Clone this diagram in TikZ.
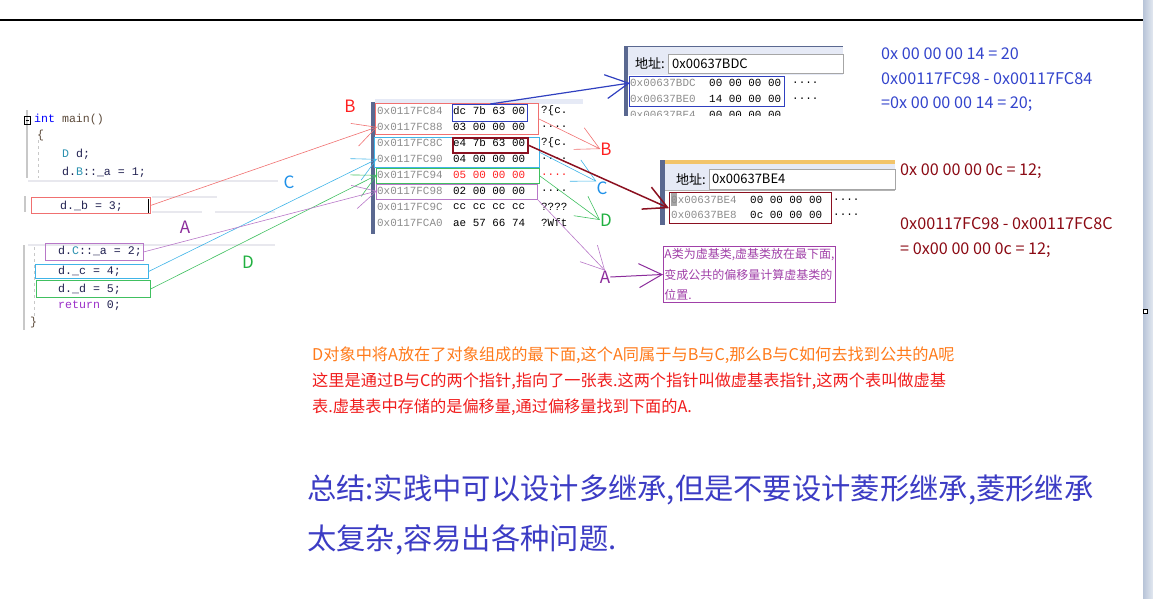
\documentclass[tikz,border=0pt]{standalone}
\usepackage{fontspec}
\usepackage{xcolor}
\usetikzlibrary{arrows.meta,positioning,calc}
\newfontfamily\cjk{Noto Sans CJK SC}
\newfontfamily\codefont{Liberation Mono}
\newcommand{\fourdots}{....}

\definecolor{cKey}{HTML}{0000FF}
\definecolor{cFunc}{HTML}{5C4A3A}
\definecolor{cType}{HTML}{2B91AF}
\definecolor{cVar}{HTML}{202050}
\definecolor{cRet}{HTML}{9B30C8}
\definecolor{cAddr}{HTML}{8C8C8C}
\definecolor{cPink}{HTML}{F07070}
\definecolor{cCyan}{HTML}{40B4E8}
\definecolor{cGreen}{HTML}{40C060}
\definecolor{cPurple}{HTML}{B878C8}
\definecolor{cBlueBox}{HTML}{3040C0}
\definecolor{cDarkRed}{HTML}{8B1020}
\definecolor{tagB}{HTML}{FF2020}
\definecolor{tagC}{HTML}{1E90E8}
\definecolor{tagD}{HTML}{20B040}
\definecolor{tagA}{HTML}{8B2C9B}
\definecolor{cNote}{HTML}{A040A8}
\definecolor{cBlueTxt}{HTML}{3344CC}
\definecolor{cSumTxt}{HTML}{3C3CC4}
\definecolor{cMaroon}{HTML}{8B0A14}
\definecolor{cOrange}{HTML}{FF7A1A}
\definecolor{cRedTxt}{HTML}{F01C1C}
\definecolor{cData}{HTML}{FF2020}
\definecolor{cBar}{HTML}{5A6890}
\definecolor{cLav}{HTML}{E6EAF6}
\definecolor{cOrangeBar}{HTML}{F2C46A}
\definecolor{cGutter}{HTML}{C8C8C8}
\definecolor{cRule}{HTML}{E8E8EE}
\definecolor{cScrollA}{HTML}{B8C4D8}
\definecolor{cScrollB}{HTML}{E2E8F0}

\tikzset{
  codetxt/.style={anchor=west,inner sep=0pt,text=cVar,font=\codefont\fontsize{11.6}{12}\selectfont},
  memtxt/.style={anchor=west,inner sep=0pt,font=\codefont\fontsize{10.9}{12}\selectfont},
  markbox/.style={draw=#1,line width=0.8pt,inner sep=0pt,anchor=north west},
  addrbox/.style={draw=gray!70,fill=white,line width=0.6pt,inner sep=0pt,anchor=north west},
  addrtxt/.style={anchor=west,inner sep=0pt,font=\cjk\fontsize{13}{13}\selectfont},
  handarrow/.style={-{Straight Barb[length=23pt,width=24pt]},line width=0.6pt},
  tag/.style={inner sep=0pt,font=\cjk\fontsize{17}{17}\selectfont},
  note/.style={anchor=west,inner sep=0pt,font=\cjk\fontsize{16.2}{16}\selectfont},
}

\begin{document}
\begin{tikzpicture}[x=1pt,y=-1pt]
  \useasboundingbox (0,0) rectangle (1153,599);
  % page frame and scrollbar
  \draw[line width=1.6pt] (0,20) -- (1143,20);
  \fill[left color=cScrollA,right color=cScrollB] (1143,0) rectangle (1153,599);
  \draw[fill=white,line width=0.6pt] (1143.5,309) rectangle (1147.5,313);

  % editor gutter
  \fill[cGutter] (26,110) rectangle (28,178);
  \fill[cGutter] (24,196) rectangle (26,212);
  \fill[cGutter] (23,245) rectangle (25,330);
  \draw[cGutter,dashed,line width=0.6pt] (38,140) -- (38,178);
  \draw[cGutter,dashed,line width=0.6pt] (34,247) -- (34,317);
  \foreach \ya/\xa/\xb in {181/28/278,197/152/217,212/152/202,212/215/275,245/28/275}
    \draw[cRule,line width=1.5pt] (\xa,\ya) -- (\xb,\ya);
  \draw[line width=0.5pt] (24,116) rectangle (30,124);
  \draw[line width=0.5pt] (25.5,120) -- (28.5,120);

  % code lines
  \node[codetxt] (cmain) at (34,120) {\textcolor{cKey}{int} \textcolor{cFunc}{main()}};
  \node[codetxt,text=cFunc] (copen) at (37,136) {\{};
  \node[codetxt] (cdecl) at (62,154) {\textcolor{cType}{D} d;};
  \node[codetxt] (cba) at (62,172) {d.\textcolor{cType}{B}::\_a = 1;};
  \node[codetxt] (cb) at (60,206) {d.\_b = 3;};
  \node[codetxt] (cca) at (58,251) {d.\textcolor{cType}{C}::\_a = 2;};
  \node[codetxt] (cc) at (58,271) {d.\_c = 4;};
  \node[codetxt] (cd) at (58,289) {d.\_d = 5;};
  \node[codetxt] (cret) at (58,306) {\textcolor{cRet}{return} 0;};
  \node[codetxt,text=cFunc] (cclose) at (30,322) {\}};
  \draw[line width=0.8pt] (148,199) -- (148,213);

  % boxes round the assignments
  \node[markbox=cPink,minimum width=119pt,minimum height=16pt] (bb) at (31,197) {};
  \node[markbox=cPurple,minimum width=98pt,minimum height=17pt] (bca) at (45,243) {};
  \node[markbox=cCyan,minimum width=113pt,minimum height=14pt] (bc) at (35,264) {};
  \node[markbox=cGreen,minimum width=114pt,minimum height=17pt] (bd) at (36,280) {};

  % memory window of d
  \fill[cLav] (375,99) rectangle (583,104);
  \fill[cBar] (371,102) rectangle (375,234);
  \foreach \i/\ad/\dt/\as/\cl in {1/0x0117FC84/dc 7b 63 00/?\{c./black,
      2/0x0117FC88/03 00 00 00/\fourdots/black,
      3/0x0117FC8C/e4 7b 63 00/?\{c./black,
      4/0x0117FC90/04 00 00 00/\fourdots/black,
      5/0x0117FC94/05 00 00 00/\fourdots/cData,
      6/0x0117FC98/02 00 00 00/\fourdots/black,
      7/0x0117FC9C/cc cc cc cc/????/black,
      8/0x0117FCA0/ae 57 66 74/?Wft/black}{
    \node[memtxt,text=cAddr] (ad\i) at (377,{111+16*(\i-1)}) {\ad};
    \node[memtxt,text=\cl] (dt\i) at (453,{111+16*(\i-1)}) {\dt};
    \node[memtxt,text=\cl] (as\i) at (541,{111+16*(\i-1)}) {\as};
  }
  \node[markbox=cPink,minimum width=163pt,minimum height=31pt] (bx1) at (375,103) {};
  \node[markbox=cBlueBox,line width=1.3pt,minimum width=75pt,minimum height=17pt] (bx2) at (452,104) {};
  \node[markbox=cCyan,minimum width=165pt,minimum height=30pt] (bx3) at (374,137) {};
  \node[markbox=cDarkRed,line width=1.6pt,minimum width=75pt,minimum height=15pt] (bx4) at (452,137) {};
  \node[markbox=cGreen,minimum width=163pt,minimum height=15pt] (bx5) at (376,168) {};
  \node[markbox=cPurple,minimum width=161pt,minimum height=15pt] (bx6) at (376,184) {};

  % memory window 0x00637BDC
  \fill[cLav] (628,47) rectangle (843,75);
  \draw[cBar,line width=1.5pt] (624,46.5) -- (843,46.5);
  \fill[cBar] (624,46) rectangle (628,116);
  \node[addrbox,minimum width=175pt,minimum height=19pt] (ab2) at (668,54) {};
  \node[addrtxt] (lbl2) at (635,63.5) {地址:};
  \node[addrtxt] (adr2) at (672,63.5) {0x00637BDC};
  \begin{scope}
    \clip (624,40) rectangle (845,116);
    \foreach \i/\ad/\dt in {1/0x00637BDC/00 00 00 00,2/0x00637BE0/14 00 00 00,3/0x00637BE4/00 00 00 00}{
      \node[memtxt,text=cAddr] (wa\i) at (630,{83+16*(\i-1)}) {\ad};
      \node[memtxt] (wd\i) at (709,{83+16*(\i-1)}) {\dt};
    }
  \end{scope}
  \node[memtxt] (wx1) at (792,83) {\fourdots};
  \node[memtxt] (wx2) at (792,99) {\fourdots};
  \node[markbox=cBlueBox,line width=1.3pt,minimum width=155pt,minimum height=30pt] (bx7) at (629,76) {};

  % memory window 0x00637BE4
  \fill[cOrangeBar] (660,160) rectangle (895,164);
  \fill[cLav] (665,164) rectangle (895,190);
  \draw[gray!60,line width=0.8pt] (665,190) -- (895,190);
  \fill[cBar] (660,160) rectangle (665,225);
  \node[addrbox,minimum width=186pt,minimum height=20pt] (ab3) at (709,169) {};
  \node[addrtxt] (lbl3) at (676,179) {地址:};
  \node[addrtxt] (adr3) at (712,179) {0x00637BE4};
  \fill[gray!70] (671,193) rectangle (677,206);
  \foreach \i/\ad/\dt in {1/0x00637BE4/00 00 00 00,2/0x00637BE8/0c 00 00 00}{
    \node[memtxt,text=cAddr] (va\i) at (671,{200+15*(\i-1)}) {\ad};
    \node[memtxt] (vd\i) at (750,{200+15*(\i-1)}) {\dt};
    \node[memtxt] (vx\i) at (833,{200+15*(\i-1)}) {\fourdots};
  }
  \node[markbox=cDarkRed,line width=1.4pt,minimum width=162pt,minimum height=31pt] (bx8) at (669,192) {};

  % tags
  \node[tag,text=tagB] (tB) at (350,106) {B};
  \node[tag,text=tagC] (tC) at (289,182) {C};
  \node[tag,text=tagD] (tD) at (248,262) {D};
  \node[tag,text=tagA] (tA) at (185,227) {A};
  \node[tag,text=tagB] (rB) at (606,149) {B};
  \node[tag,text=tagC] (rC) at (602,188) {C};
  \node[tag,text=tagD] (rD) at (606,220) {D};
  \node[tag,text=tagA] (rA) at (605,277) {A};

  % note box
  \node[draw=cNote,line width=0.9pt,anchor=north west,text=cNote,text width=170pt,align=left,
        inner xsep=1pt,inner ysep=2pt,font=\cjk\fontsize{12}{20.5}\selectfont] (note) at (663,246)
    {A类为虚基类,虚基类放在最下面,\\变成公共的偏移量计算虚基类的\\位置.};

  % connectors
  \draw[handarrow,cPink] (bb.east) -- (ad2.west);
  \draw[handarrow,cCyan] (bc.east) -- (ad4.west);
  \draw[handarrow,cGreen] (bd.east) -- (ad5.west);
  \draw[handarrow,cPurple] (bca.east) -- (ad6.west);
  \draw[handarrow,cPink] (bx1.east) -- (rB.west);
  \draw[handarrow,cCyan] (bx3.east) -- (rC.north west);
  \draw[handarrow,cGreen] (bx5.east) -- (rD.west);
  \draw[handarrow,cPurple] (bx6.south east) -- (rA.north);
  \draw[handarrow,tagA,line width=1pt] (rA.east) -- (note.west);
  \draw[handarrow,cDarkRed,line width=1.5pt] (bx4.east) -- (bx8.west);
  \draw[handarrow,cBlueBox,line width=1.2pt] (bx2.north) -- (wa1.west);

  % offsets
  \node[note,text=cBlueTxt] (o1) at (881,54) {0x 00 00 00 14 = 20};
  \node[note,text=cBlueTxt] (o2) at (881,79) {0x00117FC98 - 0x00117FC84};
  \node[note,text=cBlueTxt] (o3) at (881,104) {=0x 00 00 00 14 = 20;};
  \node[note,text=cMaroon] (p1) at (900,171) {0x 00 00 00 0c = 12;};
  \node[note,text=cMaroon] (p2) at (900,224) {0x00117FC98 - 0x00117FC8C};
  \node[note,text=cMaroon] (p3) at (900,250) {= 0x00 00 00 0c = 12;};

  % explanation
  \node[note,text=cOrange] (e1) at (312,355) {D对象中将A放在了对象组成的最下面,这个A同属于与B与C,那么B与C如何去找到公共的A呢};
  \node[note,text=cRedTxt] (e2) at (312,381) {这里是通过B与C的两个指针,指向了一张表.这两个指针叫做虚基表指针,这两个表叫做虚基};
  \node[note,text=cRedTxt] (e3) at (312,407) {表.虚基表中存储的是偏移量,通过偏移量找到下面的A.};
  \node[anchor=west,inner sep=0pt,text=cSumTxt,font=\cjk\fontsize{29.3}{29}\selectfont] (s1) at (307,490)
    {总结:实践中可以设计多继承,但是不要设计菱形继承,菱形继承};
  \node[anchor=west,inner sep=0pt,text=cSumTxt,font=\cjk\fontsize{29.3}{29}\selectfont] (s2) at (307,540)
    {太复杂,容易出各种问题.};
\end{tikzpicture}
\end{document}
